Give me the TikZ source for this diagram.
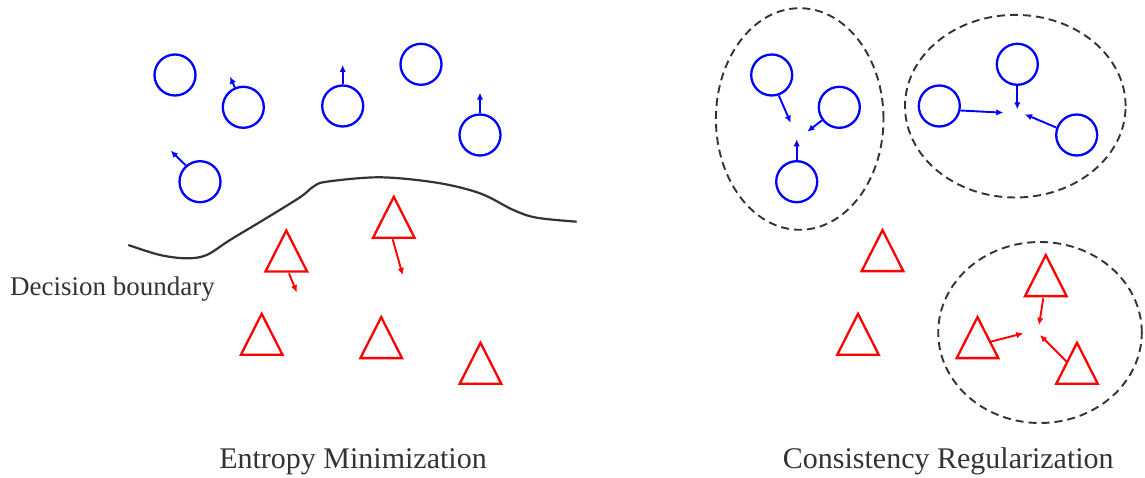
\documentclass[tikz,border=0pt]{standalone}
\usepackage{fontspec}
\setmainfont{Liberation Serif}
\usetikzlibrary{arrows.meta}
\definecolor{inkgray}{HTML}{333333}
\definecolor{ptblue}{HTML}{0000FF}
\definecolor{ptred}{HTML}{FF0000}

\tikzset{
  sample/.style={circle,draw=ptblue,line width=2.3pt,minimum size=41pt,inner sep=0pt},
  tri/.style={draw=ptred,line width=2.3pt,line join=miter},
  pics/redtri/.style={code={\draw[tri] (-20.8,0) -- (20.8,0) -- (0,-41) -- cycle;}},
  pullblue/.style={ptblue,line width=1.9pt,-{Latex[length=7pt,width=6.5pt]}},
  pullred/.style={ptred,line width=1.9pt,-{Latex[length=7pt,width=6.5pt]}},
  cluster/.style={draw=inkgray,line width=1.9pt,dash pattern=on 8pt off 5pt},
  boundary/.style={draw=inkgray,line width=2.2pt},
  caption/.style={text=inkgray,font=\fontsize{30}{36}\selectfont,inner sep=0pt,anchor=base},
}

\begin{document}
\begin{tikzpicture}[x=1pt,y=-1pt]
\useasboundingbox (0,0) rectangle (1145,478);

% ---------- left panel: entropy minimization ----------
% decision boundary
\draw[boundary] plot[smooth,tension=0.55] coordinates {
  (128.3,245) (160,255) (186.7,258.3) (206.7,255) (230,240) (263.3,220)
  (300,197.3) (313.3,186.7) (326.7,181.7) (380,177.3) (436.7,182.7)
  (480,193.3) (513.3,210) (536.7,217.7) (576.7,221.7)};
\node[caption,anchor=base west,font=\fontsize{27}{32}\selectfont] (dblabel) at (10,295) {Decision boundary};

% unlabeled samples of the first class
\node[sample] (a1) at (175,75) {};
\node[sample] (a2) at (243.3,107.3) {};
\node[sample] (a3) at (342.7,106) {};
\node[sample] (a4) at (421,64.3) {};
\node[sample] (a5) at (480,135) {};
\node[sample] (a6) at (200,181.7) {};

\coordinate (a2t) at (230,76.7);
\coordinate (a3t) at (342.7,65);
\coordinate (a5t) at (480,92.7);
\coordinate (a6t) at (170.7,150.7);
\draw[pullblue] (a2.113) -- (a2t);
\draw[pullblue] (a3.90) -- (a3t);
\draw[pullblue] (a5.90) -- (a5t);
\draw[pullblue] (a6.131) -- (a6t);

% samples of the second class
\pic at (286.3,271.5) {redtri};
\pic at (393.8,237.8) {redtri};
\pic at (261.7,354.8) {redtri};
\pic at (381.2,358.1) {redtri};
\pic at (480.5,383.8) {redtri};

\coordinate (b1s) at (289,273.3);
\coordinate (b1t) at (296.7,292.3);
\coordinate (b2s) at (392.7,239.3);
\coordinate (b2t) at (402.7,275);
\draw[pullred] (b1s) -- (b1t);
\draw[pullred] (b2s) -- (b2t);

\node[caption] (leftcap) at (353,468.3) {Entropy Minimization};

% ---------- right panel: consistency regularization ----------
\draw[cluster] (799.7,119) ellipse [x radius=83.8pt, y radius=110.8pt];
\draw[cluster] (1015.3,106.2) ellipse [x radius=110.3pt, y radius=91.3pt];
\draw[cluster] (1040,332.5) ellipse [x radius=101.8pt, y radius=90.5pt];

% first cluster
\node[sample] (c1) at (771.7,75) {};
\node[sample] (c2) at (839.3,107.3) {};
\node[sample] (c3) at (796.7,181.7) {};
\coordinate (c1t) at (790.7,122.7);
\coordinate (c2t) at (807.3,131.7);
\coordinate (c3t) at (796.7,139.3);
\draw[pullblue] (c1.-71) -- (c1t);
\draw[pullblue] (c2.217) -- (c2t);
\draw[pullblue] (c3.90) -- (c3t);

% second cluster
\node[sample] (d1) at (1017.3,64.3) {};
\node[sample] (d2) at (939.3,106) {};
\node[sample] (d3) at (1076.7,135) {};
\coordinate (d1t) at (1017.3,109.3);
\coordinate (d2t) at (1003.3,112.7);
\coordinate (d3t) at (1025,114.3);
\draw[pullblue] (d1.-90) -- (d1t);
\draw[pullblue] (d2.-12) -- (d2t);
\draw[pullblue] (d3.160) -- (d3t);

% loose triangles
\pic at (882.5,271.1) {redtri};
\pic at (858,354.8) {redtri};

% third cluster
\pic at (1045.8,296.1) {redtri};
\pic at (977.5,358.1) {redtri};
\pic at (1077,383.8) {redtri};
\coordinate (e1s) at (1043.3,298.3);
\coordinate (e1t) at (1039,325);
\coordinate (e2s) at (990.7,341.7);
\coordinate (e2t) at (1023.3,333.3);
\coordinate (e3s) at (1066.7,361.7);
\coordinate (e3t) at (1040,335);
\draw[pullred] (e1s) -- (e1t);
\draw[pullred] (e2s) -- (e2t);
\draw[pullred] (e3s) -- (e3t);

\node[caption] (rightcap) at (948.3,468.3) {Consistency Regularization};
\end{tikzpicture}
\end{document}
